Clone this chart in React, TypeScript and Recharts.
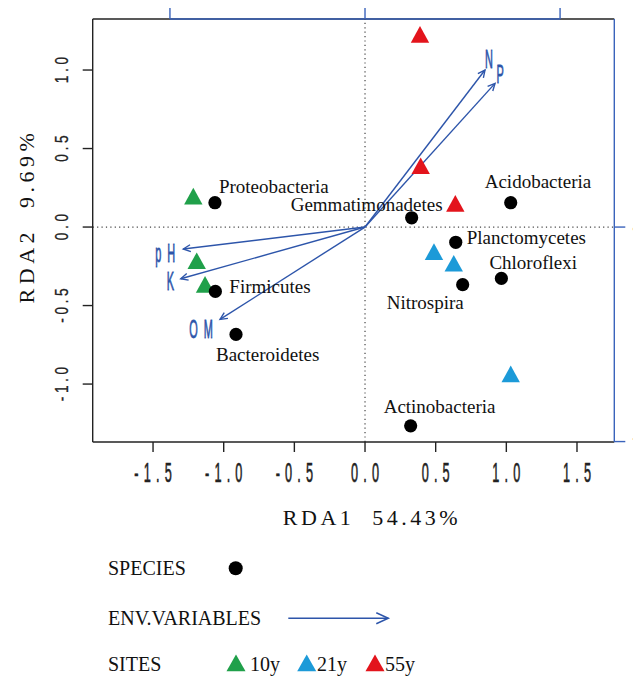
import React from 'react';
import { ScatterChart, Scatter, XAxis, YAxis, ReferenceLine } from 'recharts';

// ---- data ----
const xTicks = [-1.5, -1, -0.5, 0, 0.5, 1, 1.5];
const yTicks = [-1, -0.5, 0, 0.5, 1];
const topTicks = [-1, 0, 1];
const rightTicks = [-1, 0];

const xDomain: [number, number] = [-1.927, 1.764];
const yDomain: [number, number] = [-1.369, 1.325];
// secondary (biplot arrow) axes
const topDomain: [number, number] = [-1.396, 1.278];
const rightDomain: [number, number] = [-1.002, 0.97];

const species = [
  { name: 'Proteobacteria', x: -1.062, y: 0.155 },
  { name: 'Gemmatimonadetes', x: 0.33, y: 0.059 },
  { name: 'Acidobacteria', x: 1.031, y: 0.155 },
  { name: 'Planctomycetes', x: 0.642, y: -0.097 },
  { name: 'Chloroflexi', x: 0.965, y: -0.327 },
  { name: 'Nitrospira', x: 0.691, y: -0.367 },
  { name: 'Actinobacteria', x: 0.323, y: -1.266 },
  { name: 'Firmicutes', x: -1.059, y: -0.41 },
  { name: 'Bacteroidetes', x: -0.913, y: -0.684 },
];

const sites10y = [
  { x: -1.215, y: 0.197 },
  { x: -1.191, y: -0.215 },
  { x: -1.132, y: -0.365 },
];
const sites21y = [
  { x: 0.488, y: -0.157 },
  { x: 0.628, y: -0.231 },
  { x: 1.031, y: -0.936 },
];
const sites55y = [
  { x: 0.389, y: 1.227 },
  { x: 0.394, y: 0.39 },
  { x: 0.639, y: 0.151 },
];

const envVariables = [
  { name: 'N', x: 0.849, y: 1.0 },
  { name: 'P', x: 0.92, y: 0.915 },
  { name: 'pH', x: -1.286, y: -0.14 },
  { name: 'K', x: -1.304, y: -0.329 },
  { name: 'OM', x: -1.026, y: -0.588 },
];

// ---- styles ----
const BLUE = '#2d55aa';
const AXIS_BLUE = '#3a63bb';
const GREEN = '#20a04a';
const CYAN = '#1c9ad8';
const RED = '#e3141c';
const SERIF = "'Liberation Serif', 'Times New Roman', serif";
const SANS = "'Liberation Sans', Arial, sans-serif";

// label placement relative to the mark (px): dx, dy (baseline), anchor
const speciesLabelPos: Record<string, [number, number, 'start' | 'end']> = {
  Proteobacteria: [4, -9.4, 'start'],
  Gemmatimonadetes: [31, -7, 'end'],
  Acidobacteria: [-26, -14.4, 'start'],
  Planctomycetes: [11, 1.7, 'start'],
  Chloroflexi: [-12, -9, 'start'],
  Nitrospira: [-76, 24.6, 'start'],
  Actinobacteria: [-27, -12.4, 'start'],
  Firmicutes: [14, 1.4, 'start'],
  Bacteroidetes: [-20, 26.4, 'start'],
};
const envLabelPos: Record<string, [number, number]> = {
  N: [4, -11],
  P: [5, -9.5],
  pH: [-18, 4],
  K: [-10.4, 2.3],
  OM: [-19, 10],
};

function SpeciesDot(props: any) {
  const { cx, cy, payload } = props;
  const [dx, dy, anchor] = speciesLabelPos[payload.name] || [8, 0, 'start'];
  return (
    <g>
      <circle cx={cx} cy={cy} r={6.6} fill="#000" />
      <text
        x={cx + dx}
        y={cy + dy}
        textAnchor={anchor}
        fontFamily={SERIF}
        fontSize={19}
        fill="#111"
      >
        {payload.name}
      </text>
    </g>
  );
}

function triangle(color: string) {
  return (props: any) => {
    const { cx, cy } = props;
    return (
      <path
        d={`M${cx},${cy - 8.4} L${cx + 9.2},${cy + 8.3} L${cx - 9.2},${cy + 8.3} Z`}
        fill={color}
      />
    );
  };
}

function arrowShape(name: string) {
  return (p: any) => {
    const { x1, y1, x2, y2 } = p;
    const ang = Math.atan2(y2 - y1, x2 - x1);
    const len = 8;
    const spread = Math.PI / 7;
    const h1x = x2 - len * Math.cos(ang - spread);
    const h1y = y2 - len * Math.sin(ang - spread);
    const h2x = x2 - len * Math.cos(ang + spread);
    const h2y = y2 - len * Math.sin(ang + spread);
    const [dx, dy] = envLabelPos[name] || [0, 0];
    return (
      <g>
        <line x1={x1} y1={y1} x2={x2} y2={y2} stroke={BLUE} strokeWidth={1.4} />
        <polyline
          points={`${h1x},${h1y} ${x2},${y2} ${h2x},${h2y}`}
          fill="none"
          stroke={BLUE}
          strokeWidth={1.4}
        />
        <text
          transform={`translate(${x2 + dx},${y2 + dy}) scale(0.42,1)`}
          textAnchor="middle"
          dominantBaseline="central"
          fontFamily={SANS}
          fontSize={26}
          letterSpacing={name.length > 1 ? 14 : 0}
          dx={name.length > 1 ? 7 : 0}
          fill={BLUE}
          stroke={BLUE}
          strokeWidth={0.8}
        >
          {name}
        </text>
      </g>
    );
  };
}

function XTick(props: any) {
  const { x, y, payload } = props;
  return (
    <text
      transform={`translate(${x},${y + 20}) scale(0.47,1)`}
      textAnchor="middle"
      dominantBaseline="central"
      fontFamily={SANS}
      fontSize={27}
      letterSpacing={11}
      dx={5.5}
      fill="#222"
      stroke="#222"
      strokeWidth={0.6}
    >
      {payload.value.toFixed(1)}
    </text>
  );
}

function YTick(props: any) {
  const { x, y, payload } = props;
  return (
    <text
      transform={`translate(${x - 21},${y}) rotate(-90) scale(0.72,1)`}
      textAnchor="middle"
      dominantBaseline="central"
      fontFamily={SANS}
      fontSize={19}
      letterSpacing={5}
      dx={2.5}
      fill="#222"
      stroke="#222"
      strokeWidth={0.3}
    >
      {payload.value.toFixed(1)}
    </text>
  );
}

function RightTick(props: any) {
  const { y, payload } = props;
  return (
    <text
      transform={`translate(631.5,${y}) rotate(-90) scale(0.72,1)`}
      textAnchor="middle"
      dominantBaseline="central"
      fontFamily={SANS}
      fontSize={19}
      letterSpacing={5}
      fill="#222"
    >
      {String(payload.value)}
    </text>
  );
}

function NoLabel() {
  return <g />;
}

function LegendOverlay() {
  const tri = (cx: number, cy: number, color: string) => (
    <path
      d={`M${cx},${cy - 8.4} L${cx + 9.5},${cy + 8.3} L${cx - 9.5},${cy + 8.3} Z`}
      fill={color}
    />
  );
  return (
    <svg
      width={633}
      height={669}
      style={{ position: 'absolute', left: 0, top: 0, pointerEvents: 'none' }}
    >
      <text
        x={364}
        y={517}
        textAnchor="middle"
        fontFamily={SERIF}
        fontSize={22}
        letterSpacing={3.5}
        fill="#111"
      >
        {'RDA1\u00a0\u00a054.43%'}
      </text>
      <text
        transform="translate(26,208) rotate(-90)"
        textAnchor="middle"
        fontFamily={SERIF}
        fontSize={22}
        letterSpacing={4.5}
        fill="#111"
      >
        {'RDA2\u00a0\u00a09.69%'}
      </text>

      <text x={100} y={567} fontFamily={SERIF} fontSize={20} fill="#111">
        SPECIES
      </text>
      <circle cx={227.7} cy={560.3} r={7} fill="#000" />

      <text x={100} y={617} fontFamily={SERIF} fontSize={20} fill="#111">
        ENV.VARIABLES
      </text>
      <line x1={280.3} y1={610.3} x2={380.3} y2={610.3} stroke={BLUE} strokeWidth={1.5} />
      <polyline
        points="368.3,604.8 380.3,610.3 368.3,615.8"
        fill="none"
        stroke={BLUE}
        strokeWidth={1.5}
      />

      <text x={100} y={662.7} fontFamily={SERIF} fontSize={20} fill="#111">
        SITES
      </text>
      {tri(228, 655, GREEN)}
      <text x={242} y={662.7} fontFamily={SERIF} fontSize={20} fill="#111">
        10y
      </text>
      {tri(298.7, 655, CYAN)}
      <text x={309} y={662.7} fontFamily={SERIF} fontSize={20} fill="#111">
        21y
      </text>
      {tri(367, 655, RED)}
      <text x={377} y={662.7} fontFamily={SERIF} fontSize={20} fill="#111">
        55y
      </text>
    </svg>
  );
}

export default function App() {
  return (
    <div style={{ position: 'relative', width: 633, height: 669, background: '#fff' }}>
      <ScatterChart
        width={633}
        height={669}
        margin={{ top: 10, right: 25.7, bottom: 234, left: 83.7 }}
      >
        <XAxis
          xAxisId="main"
          type="number"
          dataKey="x"
          domain={xDomain}
          ticks={xTicks}
          allowDataOverflow
          height={1}
          axisLine={{ stroke: '#222', strokeWidth: 1.4 }}
          tickLine={{ stroke: '#222', strokeWidth: 1.4 }}
          tickSize={10}
          tickMargin={0}
          tick={<XTick />}
          interval={0}
        />
        <YAxis
          yAxisId="main"
          type="number"
          dataKey="y"
          domain={yDomain}
          ticks={yTicks}
          allowDataOverflow
          width={1}
          axisLine={{ stroke: '#222', strokeWidth: 1.4 }}
          tickLine={{ stroke: '#222', strokeWidth: 1.4 }}
          tickSize={10}
          tickMargin={0}
          tick={<YTick />}
          interval={0}
        />
        <XAxis
          xAxisId="sec"
          orientation="top"
          type="number"
          dataKey="x"
          domain={topDomain}
          ticks={topTicks}
          allowDataOverflow
          height={1}
          axisLine={false}
          tickLine={{ stroke: AXIS_BLUE, strokeWidth: 1.4 }}
          tickSize={11}
          tickMargin={0}
          tick={<NoLabel />}
          interval={0}
        />
        <YAxis
          yAxisId="sec"
          orientation="right"
          type="number"
          dataKey="y"
          domain={rightDomain}
          ticks={rightTicks}
          allowDataOverflow
          width={1}
          axisLine={{ stroke: AXIS_BLUE, strokeWidth: 1.4 }}
          tickLine={{ stroke: AXIS_BLUE, strokeWidth: 1.4 }}
          tickSize={11}
          tickMargin={0}
          tick={<RightTick />}
          interval={0}
        />

        {/* box top: black, blue secondary axis between its outer ticks */}
        <ReferenceLine
          xAxisId="main"
          yAxisId="main"
          y={yDomain[1]}
          ifOverflow="visible"
          stroke="#222"
          strokeWidth={1.4}
        />
        <ReferenceLine
          xAxisId="sec"
          yAxisId="main"
          ifOverflow="visible"
          segment={[
            { x: topTicks[0], y: yDomain[1] },
            { x: topTicks[topTicks.length - 1], y: yDomain[1] },
          ]}
          stroke={AXIS_BLUE}
          strokeWidth={1.6}
        />

        {/* zero lines */}
        <ReferenceLine
          xAxisId="main"
          yAxisId="main"
          x={0}
          stroke="#444"
          strokeWidth={1.2}
          strokeDasharray="1.2 3.2"
        />
        <ReferenceLine
          xAxisId="main"
          yAxisId="main"
          y={0}
          stroke="#444"
          strokeWidth={1.2}
          strokeDasharray="1.2 3.2"
        />

        {/* environmental arrows */}
        {envVariables.map((v) => (
          <ReferenceLine
            key={v.name}
            xAxisId="main"
            yAxisId="main"
            ifOverflow="visible"
            segment={[
              { x: 0, y: 0 },
              { x: v.x, y: v.y },
            ]}
            shape={arrowShape(v.name)}
          />
        ))}

        <Scatter
          name="10y"
          xAxisId="main"
          yAxisId="main"
          data={sites10y}
          shape={triangle(GREEN)}
          isAnimationActive={false}
        />
        <Scatter
          name="21y"
          xAxisId="main"
          yAxisId="main"
          data={sites21y}
          shape={triangle(CYAN)}
          isAnimationActive={false}
        />
        <Scatter
          name="55y"
          xAxisId="main"
          yAxisId="main"
          data={sites55y}
          shape={triangle(RED)}
          isAnimationActive={false}
        />
        <Scatter
          name="SPECIES"
          xAxisId="main"
          yAxisId="main"
          data={species}
          shape={SpeciesDot}
          isAnimationActive={false}
        />
      </ScatterChart>
      <LegendOverlay />
    </div>
  );
}
